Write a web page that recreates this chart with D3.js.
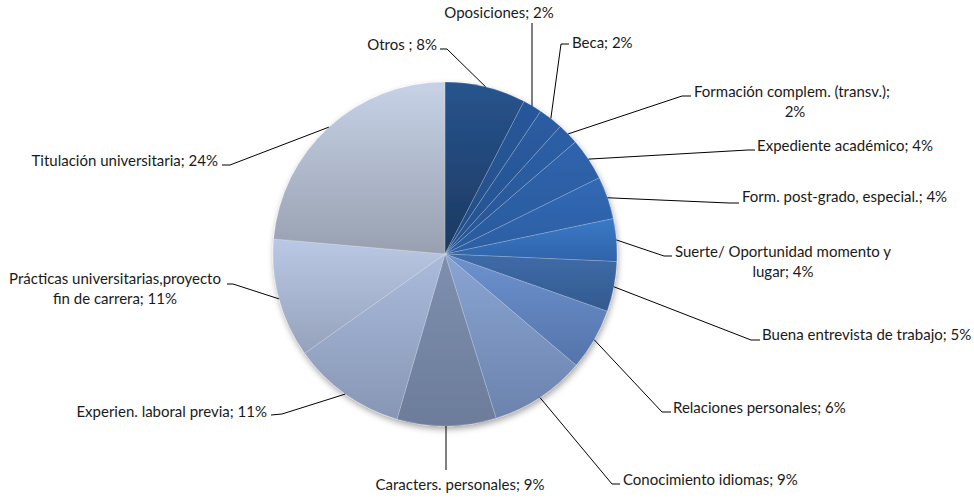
<!DOCTYPE html>
<html>
<head>
<meta charset="utf-8">
<script src="https://cdn.jsdelivr.net/npm/d3@7"></script>
<style>
  html, body { margin: 0; padding: 0; background: #ffffff; }
  svg { display: block; }
  text { font-family: Lato, "Open Sans", sans-serif; font-size: 15px; fill: #1a1a1a; }
</style>
</head>
<body>
<svg id="chart" width="974" height="499"></svg>
<script>
// ---- data ----
const categories = [
  "Otros ", "Oposiciones", "Beca", "Formación complem. (transv.)",
  "Expediente académico", "Form. post-grado, especial.", "Suerte/ Oportunidad momento y lugar",
  "Buena entrevista de trabajo", "Relaciones personales", "Conocimiento idiomas",
  "Caracters. personales", "Experien. laboral previa", "Prácticas universitarias,proyecto fin de carrera",
  "Titulación universitaria"
];
const values = [7.6, 1.8, 2.3, 2.0, 4.0, 4.0, 4.0, 4.7, 5.8, 9.0, 9.3, 10.7, 11.2, 23.6];

// ---- styles ----
const topColors = ["#27548d", "#28589b", "#2a5ca1", "#2c5fa7", "#2f64ad", "#3169b5", "#3b79c8",
                   "#3f6ba8", "#6d92cf", "#8aa5d3", "#7e8faf", "#abbbdc", "#bac8e5", "#c7d2e7"];
const bottomColors = ["#1c3961", "#234d86", "#25528e", "#275695", "#2a5a9c", "#2c5ea2", "#2f63a8",
                      "#335a8f", "#5474aa", "#6b83ad", "#6c7c9a", "#8796b4", "#96a2bb", "#98a0b0"];

// label layout: line positions and leader knee points (label side)
const labelLayout = [
  { lines: [{x: 437, y: 50, a: "end"}], knee: [[440, 49], [447, 49]] },
  { lines: [{x: 499, y: 18, a: "middle"}], knee: [[532, 23]] , vertical: true },
  { lines: [{x: 572, y: 48, a: "start"}], knee: [[569, 44], [561, 44]] },
  { lines: [{x: 694, y: 97, a: "start"}, {x: 795, y: 117, a: "middle"}], br: 1, knee: [[691, 96], [682, 96]] },
  { lines: [{x: 757, y: 151, a: "start"}], knee: [[755, 150], [748, 150]] },
  { lines: [{x: 742, y: 202, a: "start"}], knee: [[739, 203], [729, 203]] },
  { lines: [{x: 783, y: 257, a: "middle"}, {x: 783, y: 277, a: "middle"}], br: 2, knee: [[672, 256], [664, 256]] },
  { lines: [{x: 762, y: 340, a: "start"}], knee: [[760, 340], [751, 340]] },
  { lines: [{x: 673, y: 413, a: "start"}], knee: [[671, 412], [662, 412]] },
  { lines: [{x: 623, y: 485, a: "start"}], knee: [[620, 484], [612, 484]] },
  { lines: [{x: 460, y: 490, a: "middle"}], knee: [[446, 470]], vertical: true },
  { lines: [{x: 267, y: 417, a: "end"}], knee: [[271, 415], [282, 414]] },
  { lines: [{x: 115, y: 284, a: "middle"}, {x: 115, y: 304, a: "middle"}], br: 3, knee: [[227, 284], [233, 284]] },
  { lines: [{x: 218, y: 166, a: "end"}], knee: [[222, 165], [230, 165]] }
];

function labelLines(i) {
  const pct = Math.round(values[i]) + "%";
  const full = categories[i] + "; " + pct;
  const L = labelLayout[i];
  if (L.br === 1) return ["Formación complem. (transv.);", pct];
  if (L.br === 2) return ["Suerte/ Oportunidad momento y", "lugar; " + pct];
  if (L.br === 3) return ["Prácticas universitarias,proyecto", "fin de carrera; " + pct];
  return [full];
}

const cx = 445, cy = 254, R = 172;
const svg = d3.select("#chart");
const defs = svg.append("defs");

const f = defs.append("filter").attr("id", "shadow")
  .attr("x", "-20%").attr("y", "-20%").attr("width", "140%").attr("height", "140%");
f.append("feDropShadow").attr("dx", 1).attr("dy", 3).attr("stdDeviation", 3)
  .attr("flood-color", "#000").attr("flood-opacity", 0.35);

values.forEach((v, i) => {
  const g = defs.append("linearGradient").attr("id", "grad" + i)
    .attr("x1", 0).attr("y1", 0).attr("x2", 0).attr("y2", 1);
  g.append("stop").attr("offset", "0%").attr("stop-color", topColors[i]);
  g.append("stop").attr("offset", "100%").attr("stop-color", bottomColors[i]);
});

const pie = d3.pie().sort(null).value(d => d).startAngle(0).endAngle(2 * Math.PI);
const arcs = pie(values);
const arc = d3.arc().innerRadius(0).outerRadius(R);
const edge = d3.arc().innerRadius(R).outerRadius(R);

const g = svg.append("g").attr("transform", `translate(${cx},${cy})`);
const pg = g.append("g").attr("filter", "url(#shadow)");
pg.selectAll("path.slice").data(arcs).join("path")
  .attr("class", "slice")
  .attr("d", arc)
  .attr("fill", (d, i) => `url(#grad${i})`)
  .attr("stroke", "rgba(255,255,255,0.25)")
  .attr("stroke-width", 0.75);

// leader lines
const leaders = svg.append("g");
arcs.forEach((d, i) => {
  const c = edge.centroid(d);
  const pts = labelLayout[i].knee.map(p => p.slice());
  if (labelLayout[i].vertical) pts.push([pts[0][0], cy + c[1]]);
  else pts.push([cx + c[0], cy + c[1]]);
  leaders.append("path")
    .attr("d", d3.line()(pts))
    .attr("fill", "none").attr("stroke", "#000").attr("stroke-width", 1);
});

// labels
const lg = svg.append("g");
arcs.forEach((d, i) => {
  const lines = labelLines(i);
  lines.forEach((t, k) => {
    const p = labelLayout[i].lines[k];
    lg.append("text").attr("x", p.x).attr("y", p.y)
      .attr("text-anchor", p.a).text(t);
  });
});
</script>
</body>
</html>
